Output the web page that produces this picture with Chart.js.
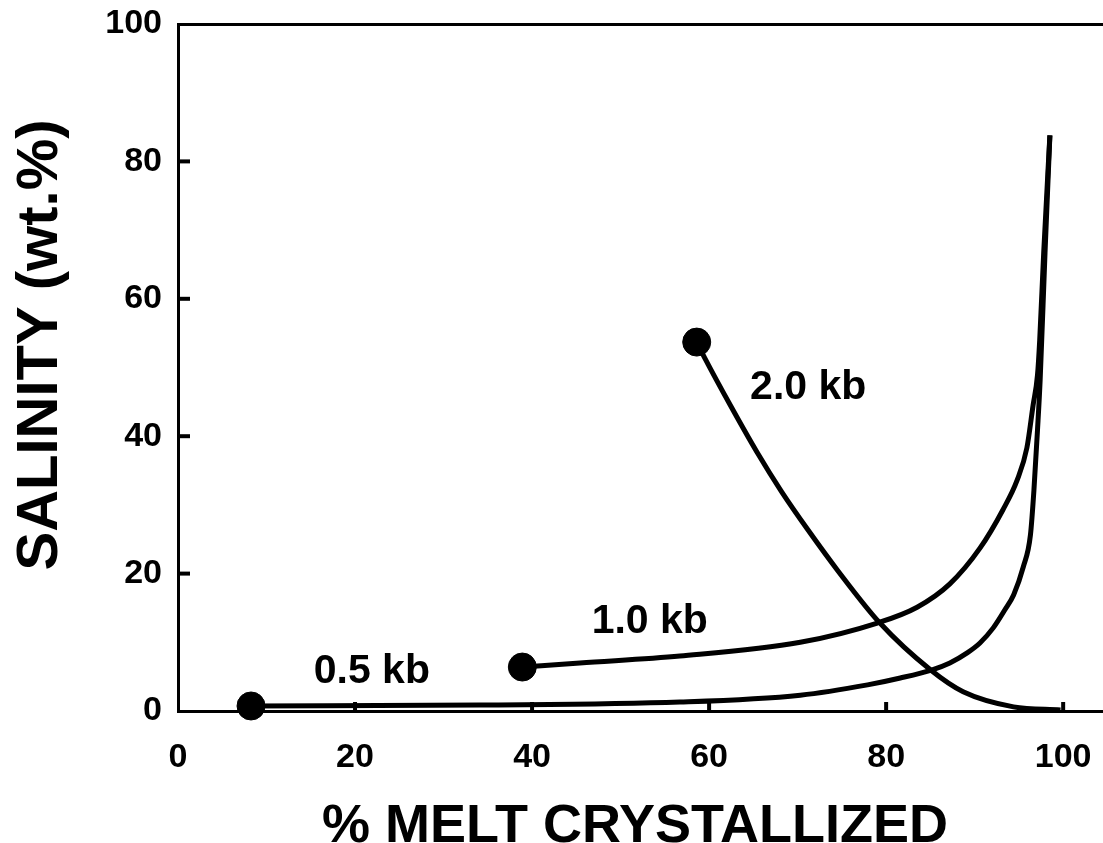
<!DOCTYPE html>
<html>
<head>
<meta charset="utf-8">
<script src="https://cdn.jsdelivr.net/npm/chart.js@4/dist/chart.umd.min.js"></script>
<style>
  html, body { margin: 0; padding: 0; background: #fff; overflow: hidden; }
  canvas { display: block; }
</style>
</head>
<body>
<canvas id="chart" width="1103" height="843"></canvas>
<script>
// Tick values for both axes
const xTickValues = [0, 20, 40, 60, 80, 100];
const yTickValues = [0, 20, 40, 60, 80, 100];

// 0.5 kb path: % melt crystallized vs. salinity (wt.%)
const melt05 = [8.25, 34.1, 56.7, 70.3, 77.9, 81.6, 85.2, 87.2, 89.2, 90.6, 92.1, 93.4, 94.4, 95.5, 96.3, 96.7, 97.1, 97.4, 97.95, 98.5];
const salinity05 = [0.73, 0.87, 1.3, 2.3, 3.8, 4.8, 6.0, 7.0, 8.5, 9.9, 12.1, 14.7, 16.9, 21.0, 25.6, 32.2, 40.9, 48.2, 66.7, 83.8];

// 1.0 kb path
const melt10 = [38.9, 45.4, 56.7, 70.3, 79.0, 83.5, 87.2, 90.6, 93.2, 94.8, 95.9, 96.6, 97.1, 97.35, 97.8, 98.5];
const salinity10 = [6.4, 7.0, 8.0, 10.0, 12.8, 15.1, 18.5, 23.7, 29.3, 33.6, 38.3, 44.5, 48.9, 54.0, 66.7, 83.8];

// 2.0 kb path
const melt20 = [58.6, 59.5, 62.4, 65.4, 68.2, 71.2, 74.5, 79.3, 85.0, 88.7, 94.4, 99.7];
const salinity20 = [53.7, 51.4, 44.5, 37.7, 31.9, 26.3, 20.5, 12.8, 6.0, 2.8, 0.6, 0.15];

const seriesNames = ['0.5 kb', '1.0 kb', '2.0 kb'];

const FONT = '"Liberation Sans", Arial, Helvetica, sans-serif';

function toPoints(xs, ys) {
  return xs.map((v, i) => ({ x: v, y: ys[i] }));
}

function pathDataset(label, xs, ys) {
  return {
    label: label,
    data: toPoints(xs, ys),
    showLine: true,
    borderColor: '#000',
    backgroundColor: '#000',
    borderWidth: 5,
    cubicInterpolationMode: 'monotone',
    pointRadius: ctx => (ctx.dataIndex === 0 ? 14 : 0),
    pointHoverRadius: ctx => (ctx.dataIndex === 0 ? 14 : 0),
    pointBorderWidth: 1,
    pointBackgroundColor: '#000',
    pointBorderColor: '#000',
    clip: false
  };
}

// Curve captions placed in data coordinates
const curveCaptions = [
  { text: seriesNames[0], x: 21.9, y: 5.7 },
  { text: seriesNames[1], x: 53.3, y: 13.0 },
  { text: seriesNames[2], x: 71.2, y: 47.0 }
];

// Inward tick marks, curve captions and axis titles
const decorations = {
  id: 'decorations',
  afterDatasetsDraw(chart) {
    const { ctx, chartArea: a, scales: { x, y } } = chart;
    ctx.save();
    ctx.strokeStyle = '#000';
    ctx.lineWidth = 4;
    ctx.lineCap = 'butt';
    xTickValues.forEach(v => {
      if (v === 0) return;
      const px = x.getPixelForValue(v);
      ctx.beginPath();
      ctx.moveTo(px, a.bottom);
      ctx.lineTo(px, a.bottom - 9);
      ctx.stroke();
    });
    yTickValues.forEach(v => {
      if (v === 0 || v === 100) return;
      const py = y.getPixelForValue(v);
      ctx.beginPath();
      ctx.moveTo(a.left, py);
      ctx.lineTo(a.left + 12, py);
      ctx.stroke();
    });

    ctx.fillStyle = '#000';
    ctx.font = 'bold 41px ' + FONT;
    ctx.textAlign = 'center';
    ctx.textBaseline = 'middle';
    curveCaptions.forEach(c => {
      ctx.fillText(c.text, x.getPixelForValue(c.x), y.getPixelForValue(c.y));
    });

    // x-axis title
    ctx.font = 'bold 54px ' + FONT;
    ctx.textBaseline = 'alphabetic';
    ctx.fillText('% MELT CRYSTALLIZED', 635, 842);

    // y-axis title
    ctx.font = 'bold 58px ' + FONT;
    ctx.translate(57, 345);
    ctx.rotate(-Math.PI / 2);
    ctx.fillText('SALINITY (wt.%)', 0, 0);
    ctx.restore();
  }
};

const tickFont = { family: FONT, size: 34, weight: 'bold' };

// Scales keep no extra room for overhanging tick labels
function zeroPadding(s) {
  s.paddingTop = 0;
  s.paddingBottom = 0;
  s.paddingLeft = 0;
  s.paddingRight = 0;
}

new Chart(document.getElementById('chart'), {
  type: 'scatter',
  data: {
    datasets: [
      pathDataset(seriesNames[0], melt05, salinity05),
      pathDataset(seriesNames[1], melt10, salinity10),
      pathDataset(seriesNames[2], melt20, salinity20)
    ]
  },
  options: {
    responsive: false,
    animation: false,
    events: [],
    layout: { autoPadding: false, padding: { top: 24, left: 0, right: 0, bottom: 0 } },
    plugins: {
      legend: { display: false },
      tooltip: { enabled: false }
    },
    scales: {
      x: {
        type: 'linear',
        position: 'bottom',
        min: 0,
        max: 104.5,
        afterBuildTicks: s => { s.ticks = xTickValues.map(v => ({ value: v })); },
        afterFit: s => { s.height = 132; zeroPadding(s); },
        grid: { display: false, drawTicks: false },
        border: { display: true, color: '#000', width: 3 },
        ticks: { color: '#000', font: tickFont, padding: 26, maxRotation: 0 }
      },
      x2: {
        type: 'linear',
        position: 'top',
        min: 0,
        max: 104.5,
        afterFit: s => { s.height = 0; zeroPadding(s); },
        grid: { display: false, drawTicks: false },
        border: { display: true, color: '#000', width: 3 },
        ticks: { display: false }
      },
      y: {
        type: 'linear',
        position: 'left',
        min: 0,
        max: 100,
        afterBuildTicks: s => { s.ticks = yTickValues.map(v => ({ value: v })); },
        afterFit: s => { s.width = 178; zeroPadding(s); },
        grid: { display: false, drawTicks: false },
        border: { display: true, color: '#000', width: 3 },
        ticks: { color: '#000', font: tickFont, padding: 16 }
      }
    }
  },
  plugins: [decorations]
});
</script>
</body>
</html>
